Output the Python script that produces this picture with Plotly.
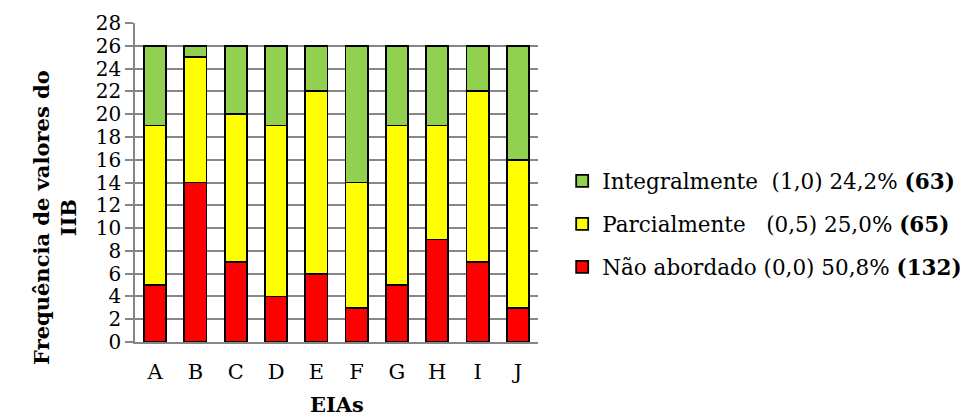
import plotly.graph_objects as go

categories = ["A", "B", "C", "D", "E", "F", "G", "H", "I", "J"]
nao_abordado = [5, 14, 7, 4, 6, 3, 5, 9, 7, 3]
parcialmente = [14, 11, 13, 15, 16, 11, 14, 10, 15, 13]
integralmente = [7, 1, 6, 7, 4, 12, 7, 7, 4, 10]
y_ticks = list(range(0, 29, 2))

names = {
    "int": "Integralmente  (1,0) 24,2% <b>(63)</b>",
    "par": "Parcialmente   (0,5) 25,0% <b>(65)</b>",
    "nao": "Não abordado (0,0) 50,8% <b>(132)</b>",
}

FONT = "DejaVu Serif, serif"
line = dict(color="black", width=1.8)

fig = go.Figure()
fig.add_trace(go.Bar(x=categories, y=nao_abordado, name=names["nao"], legendgroup="nao",
                     legendrank=3, marker=dict(color="#FF0000", line=line)))
fig.add_trace(go.Bar(x=categories, y=parcialmente, name=names["par"], legendgroup="par",
                     legendrank=2, marker=dict(color="#FFFF00", line=line)))
fig.add_trace(go.Bar(x=categories, y=integralmente, name=names["int"], legendgroup="int",
                     legendrank=1, marker=dict(color="#92D050", line=line)))

fig.update_layout(
    barmode="stack",
    bargap=0.45,
    width=972, height=417,
    margin=dict(l=135, r=434, t=23, b=75, autoexpand=False),
    paper_bgcolor="white", plot_bgcolor="white",
    font=dict(family=FONT, size=18, color="black"),
    legend=dict(x=1.06, xanchor="left", y=0.37, yanchor="middle",
                traceorder="grouped", tracegroupgap=12,
                font=dict(family=FONT, size=21.5, color="black"),
                itemwidth=30),
    showlegend=True,
)
fig.update_xaxes(
    showline=True, linecolor="#868686", linewidth=1.5, automargin=False,
    tickfont=dict(family=FONT, size=21), ticks="", ticklabelstandoff=10,
)
fig.update_yaxes(
    range=[0, 28], tickvals=y_ticks, showgrid=True, gridcolor="#868686", gridwidth=1.5,
    showline=True, linecolor="#868686", linewidth=1.5, automargin=False,
    ticks="outside", ticklen=8, tickcolor="#868686", tickwidth=1.5,
    tickfont=dict(family=FONT, size=20), zeroline=False,
)
fig.add_annotation(
    text="<b>Frequência de valores do<br>IIB</b>", textangle=-90,
    xref="paper", yref="paper", x=-0.1985, y=0.389, xanchor="center", yanchor="middle",
    showarrow=False, font=dict(family=FONT, size=21), align="center",
)
fig.add_annotation(
    text="<b>EIAs</b>",
    xref="paper", yref="paper", x=0.5, y=-0.197, xanchor="center", yanchor="middle",
    showarrow=False, font=dict(family=FONT, size=21),
)

fig.write_html("out.html", config={"displayModeBar": False},
               post_script="document.body.style.margin='0';")
